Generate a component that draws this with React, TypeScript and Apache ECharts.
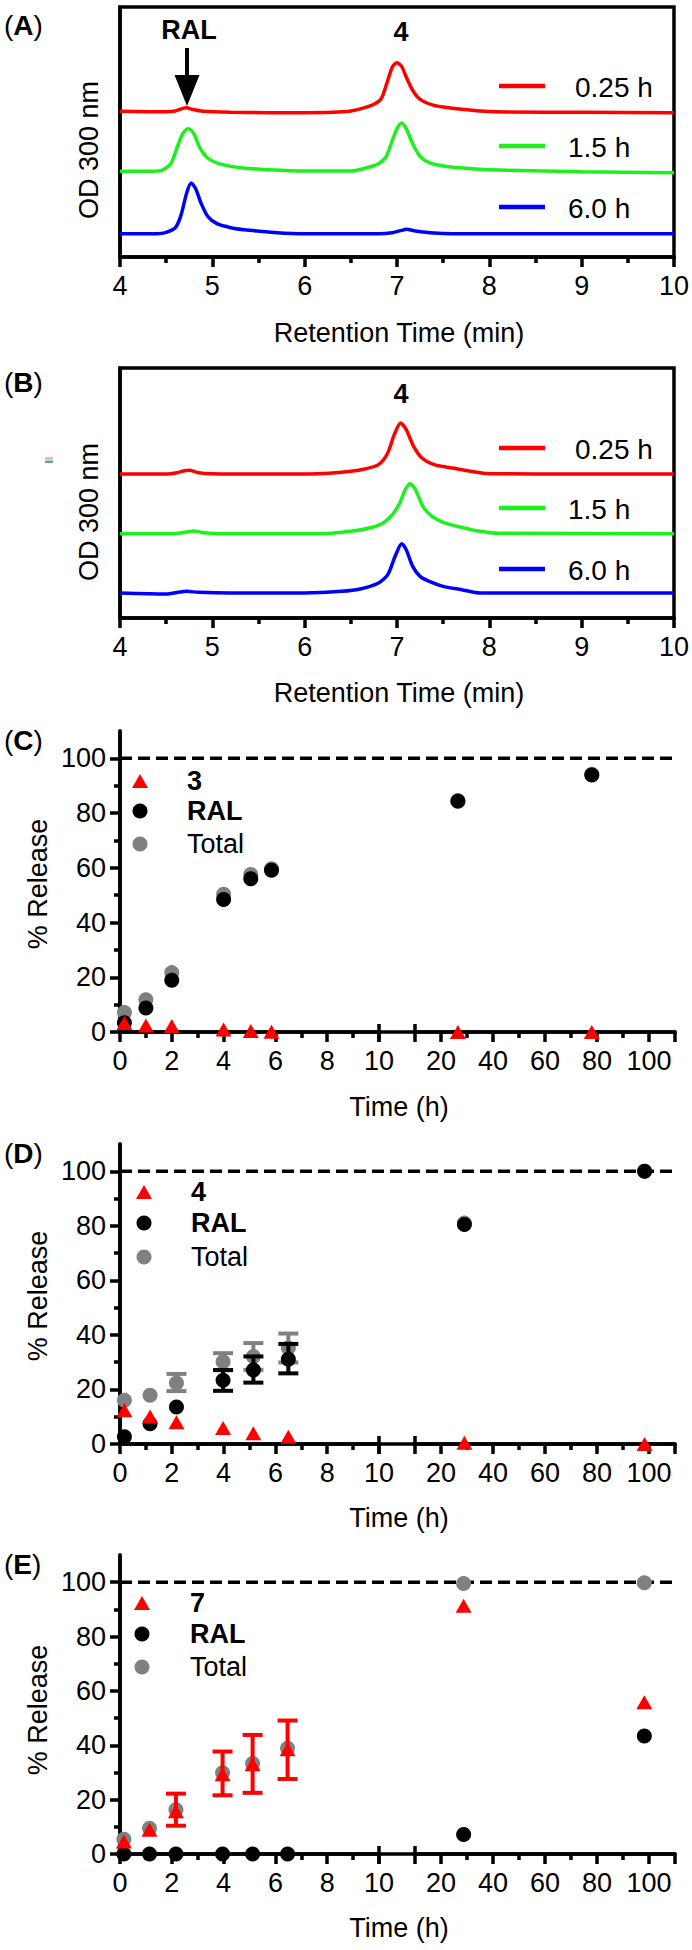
import React, { useEffect, useRef } from "react";
import * as echarts from "echarts";

const FONT = '"Liberation Sans", Arial, Helvetica, sans-serif';

// ---------- Panel A chromatograms (retention time min, signal a.u.) ----------
const aRed: [number, number][] = [[4.0,437],[4.3,436],[4.5,436],[4.6,438],[4.68,446],[4.72,448],[4.78,443],[4.9,437],[5.2,434],[5.6,433],[6.0,433],[6.3,434],[6.5,438],[6.65,448],[6.75,458],[6.83,475],[6.9,530],[6.95,570],[7.0,583],[7.05,572],[7.1,540],[7.17,500],[7.23,478],[7.3,465],[7.4,455],[7.5,450],[7.7,443],[7.9,438],[8.2,435],[9.0,434],[10.0,433]];
const aGreen: [number, number][] = [[4.0,257],[4.3,257],[4.45,260],[4.55,280],[4.62,330],[4.68,370],[4.74,385],[4.8,370],[4.86,330],[4.93,302],[5.0,288],[5.1,278],[5.3,268],[5.6,262],[6.0,258],[6.5,258],[6.7,270],[6.8,280],[6.88,300],[6.95,350],[7.0,385],[7.05,402],[7.1,385],[7.17,340],[7.25,302],[7.35,283],[7.5,273],[7.8,265],[8.2,260],[9.0,256],[10.0,253]];
const aBlue: [number, number][] = [[4.0,70],[4.4,70],[4.5,74],[4.6,88],[4.66,125],[4.72,190],[4.77,222],[4.82,205],[4.88,160],[4.95,122],[5.05,100],[5.2,88],[5.4,80],[5.7,73],[6.0,70],[6.8,70],[6.95,73],[7.05,80],[7.1,83],[7.2,78],[7.4,72],[7.6,70],[10.0,70]];

// ---------- Panel B chromatograms ----------
const bRed: [number, number][] = [[4.0,432],[4.5,432],[4.62,436],[4.7,442],[4.75,443],[4.85,436],[5.0,433],[5.5,432],[6.0,432],[6.3,435],[6.5,440],[6.65,447],[6.8,460],[6.9,495],[6.97,550],[7.04,585],[7.1,565],[7.18,515],[7.27,480],[7.4,460],[7.6,450],[7.8,440],[8.0,433],[9.0,432],[10.0,432]];
const bGreen: [number, number][] = [[4.0,253],[4.6,253],[4.72,258],[4.8,261],[4.9,256],[5.1,253],[6.2,253],[6.5,260],[6.7,270],[6.85,285],[6.95,310],[7.03,345],[7.09,385],[7.14,403],[7.2,385],[7.28,335],[7.38,305],[7.5,287],[7.7,272],[7.9,260],[8.1,254],[10.0,253]];
const bBlue: [number, number][] = [[4.0,75],[4.5,72],[4.65,78],[4.72,80],[4.85,77],[5.2,75],[6.0,75],[6.4,80],[6.6,87],[6.8,105],[6.9,130],[6.98,185],[7.05,223],[7.1,205],[7.17,155],[7.25,125],[7.35,110],[7.5,95],[7.7,85],[7.9,75],[10.0,75]];

const chromLegend = ["0.25 h", "1.5 h", "6.0 h"];

// ---------- Panel C (% release) ----------
const cTime = [0.17, 1.0, 2.0, 4.0, 5.05, 5.85, 26.5, 78];
const cCompound = [3.3, 2.4, 2.2, 0.9, 0.4, 0.1, 0, 0];
const cRAL = [3.4, 8.8, 18.9, 48.4, 56.0, 59.1, 84.3, 93.9];
const cTotal = [7.1, 11.8, 21.7, 50.3, 57.6, 59.7, 84.6, 94.2];

// ---------- Panel D ----------
const dTime = [0.17, 1.16, 2.18, 3.98, 5.15, 6.5, 29, 98.3];
const dCompound = [12.4, 10.1, 8.0, 5.9, 3.9, 2.7, 0.5, 0];
const dRAL = [2.7, 7.4, 13.6, 23.4, 27.1, 31.1, 80.5, 100];
const dTotal = [16.0, 17.9, 22.4, 30.2, 32.1, 35.2, 81.0, 100];
const dRALLow = [null, null, null, 19.5, 22.5, 25.9, null, null];
const dRALHigh = [null, null, null, 27.1, 32.1, 36.7, null, null];
const dTotalLow = [null, null, 19.4, 27.1, 27.2, 29.9, null, null];
const dTotalHigh = [null, null, 25.7, 33.3, 37.0, 40.5, null, null];

// ---------- Panel E ----------
const eTime = [0.15, 1.14, 2.16, 3.96, 5.12, 6.47, 28.7, 98.2];
const eCompound = [4.6, 8.9, 15.7, 29.3, 33.0, 38.5, 91.3, 55.8];
const eRAL = [0, 0, 0, 0, 0, 0, 7.2, 43.4];
const eTotal = [5.4, 9.5, 16.3, 29.9, 33.3, 38.9, 99.5, 99.8];
const eCompLow = [null, null, 10.4, 21.6, 22.5, 27.6, null, null];
const eCompHigh = [null, null, 22.2, 37.7, 43.8, 49.1, null, null];

// ---------- tick values ----------
const yMajor = [0, 20, 40, 60, 80, 100];
const yMinor = [10, 30, 50, 70, 90];
const xRightMajor = [20, 40, 60, 80, 100, 110];
const xRightLabels = [20, 40, 60, 80, 100];
const xRightMinor = [30, 50, 70, 90];

const completeRelease = 100;
const releaseLegend = [["3", "RAL", "Total"], ["4", "RAL", "Total"], ["7", "RAL", "Total"]];

const RED = "#ff0000";
const GREEN = "#1ef01e";
const BLUE = "#0000ff";
const GREY = "#808080";
const BLACK = "#000000";

const AXW = 3.5;
const lineStyleAx = { color: BLACK, width: AXW };
const labelStyle = { color: BLACK, fontSize: 27, fontFamily: FONT };

function App() {
  const ref = useRef<HTMLDivElement>(null);
  useEffect(() => {
    if (!ref.current) return;
    const chart = echarts.init(ref.current, undefined, { renderer: "svg" });

    const grid: any[] = [];
    const xAxis: any[] = [];
    const yAxis: any[] = [];
    const series: any[] = [];
    const graphic: any[] = [];

    const txt = (x: number, y: number, text: string, o: any = {}) => ({
      type: "text",
      x,
      y,
      rotation: o.rotation || 0,
      z: 100,
      style: {
        text,
        fontSize: o.fontSize || 27,
        fontFamily: FONT,
        fontWeight: o.bold ? "bold" : "normal",
        fill: BLACK,
        textAlign: o.align || "center",
        textVerticalAlign: "middle",
        align: o.align || "center",
        verticalAlign: "middle",
        rich: o.rich,
      },
    });
    const panelLabel = (y: number, L: string) =>
      txt(4, y, "{n|(}{b|" + L + "}{n|)}", {
        align: "left",
        rich: { n: { fontSize: 28, fontFamily: FONT }, b: { fontSize: 28, fontFamily: FONT, fontWeight: "bold" } },
      });

    // ---------- chromatogram panels ----------
    const chrom = [
      { top: 7, h: 250, data: [aRed, aGreen, aBlue], legendY: [86, 146, 207], label: "A", labelY: 25, yTitle: 150, xTitle: 333, peak4Y: 32 },
      { top: 368, h: 250, data: [bRed, bGreen, bBlue], legendY: [448, 508, 569], label: "B", labelY: 382, yTitle: 512, xTitle: 693, peak4Y: 394 },
    ];
    const colors = [RED, GREEN, BLUE];
    chrom.forEach((p) => {
      const gi = grid.length;
      grid.push({ left: 120, top: p.top, width: 555, height: p.h, show: true, borderColor: BLACK, borderWidth: AXW, backgroundColor: "transparent" });
      const xi = xAxis.length;
      xAxis.push({
        gridIndex: gi, type: "value", min: 4, max: 10, interval: 1,
        axisLine: { show: true, lineStyle: lineStyleAx },
        axisTick: { show: true, length: 10, lineStyle: lineStyleAx },
        minorTick: { show: true, splitNumber: 2, length: 6, lineStyle: lineStyleAx },
        axisLabel: { ...labelStyle, margin: 15 },
        splitLine: { show: false },
      });
      const yi = yAxis.length;
      yAxis.push({
        gridIndex: gi, type: "value", min: 0, max: 750,
        axisLine: { show: true, lineStyle: lineStyleAx },
        axisTick: { show: false }, axisLabel: { show: false }, splitLine: { show: false },
      });
      p.data.forEach((d, k) => {
        series.push({
          type: "line", xAxisIndex: xi, yAxisIndex: yi, data: d, showSymbol: false, symbol: "none",
          smooth: 0.25, lineStyle: { color: colors[k], width: 3.5 }, z: 3,
        });
        graphic.push({ type: "line", shape: { x1: 499, y1: p.legendY[k], x2: 545, y2: p.legendY[k] }, style: { stroke: colors[k], lineWidth: 4.5 }, z: 100 });
        graphic.push(txt(k === 0 ? 575 : 568, p.legendY[k] + 1, chromLegend[k], { align: "left", fontSize: 28 }));
      });
      graphic.push(panelLabel(p.labelY, p.label));
      graphic.push(txt(89, p.yTitle, "OD 300 nm", { rotation: Math.PI / 2 }));
      graphic.push(txt(399, p.xTitle, "Retention Time (min)"));
      graphic.push(txt(401, p.peak4Y, "4", { bold: true }));
    });

    // RAL arrow in A
    graphic.push(txt(189, 30, "RAL", { bold: true }));
    graphic.push({ type: "line", shape: { x1: 187, y1: 48, x2: 187, y2: 80 }, style: { stroke: BLACK, lineWidth: 4 }, z: 100 });
    graphic.push({ type: "polygon", shape: { points: [[174.5, 75], [199.5, 75], [187, 106]] }, style: { fill: BLACK }, z: 100 });
    // small artifact in B
    graphic.push({ type: "rect", shape: { x: 45, y: 457, width: 8, height: 2 }, style: { fill: "#e8b8c8" }, z: 100 });
    graphic.push({ type: "rect", shape: { x: 45, y: 459, width: 8, height: 2 }, style: { fill: "#b0e0b0" }, z: 100 });
    graphic.push({ type: "rect", shape: { x: 45, y: 461, width: 8, height: 2 }, style: { fill: "#7090d8" }, z: 100 });

    // ---------- release panels ----------
    const rel = [
      { top: 731, bottom: 1032, label: "C", labelY: 740, yTitle: 884, xTitle: 1107, legX: 140, legTX: 187, legY: [781, 811, 844],
        time: cTime, comp: cCompound, ral: cRAL, total: cTotal, err: [] as any[] },
      { top: 1144, bottom: 1444, label: "D", labelY: 1153, yTitle: 1296, xTitle: 1518, legX: 144, legTX: 191, legY: [1192, 1223, 1257],
        time: dTime, comp: dCompound, ral: dRAL, total: dTotal,
        err: [{ who: "total", low: dTotalLow, high: dTotalHigh, color: GREY }, { who: "ral", low: dRALLow, high: dRALHigh, color: BLACK }] },
      { top: 1555, bottom: 1854, label: "E", labelY: 1564, yTitle: 1710, xTitle: 1928, legX: 142, legTX: 190, legY: [1603, 1634, 1667],
        time: eTime, comp: eCompound, ral: eRAL, total: eTotal,
        err: [{ who: "comp", low: eCompLow, high: eCompHigh, color: RED }] },
    ];

    const errSeries = (xi: number, yi: number, data: number[][], color: string, z: number) => ({
      type: "custom", xAxisIndex: xi, yAxisIndex: yi, z, data, clip: false,
      encode: { x: 0, y: [1, 2] },
      renderItem: (_params: any, api: any) => {
        const x = api.value(0);
        const lo = api.coord([x, api.value(1)]);
        const hi = api.coord([x, api.value(2)]);
        const w = 10;
        const st = { stroke: color, lineWidth: 4 };
        return {
          type: "group",
          children: [
            { type: "line", shape: { x1: lo[0], y1: lo[1], x2: hi[0], y2: hi[1] }, style: st },
            { type: "line", shape: { x1: lo[0] - w, y1: lo[1], x2: lo[0] + w, y2: lo[1] }, style: st },
            { type: "line", shape: { x1: hi[0] - w, y1: hi[1], x2: hi[0] + w, y2: hi[1] }, style: st },
          ],
        };
      },
    });

    rel.forEach((p, pi) => {
      const h = p.bottom - p.top;
      const gL = grid.length, gR = gL + 1, gO = gL + 2;
      grid.push({ left: 120, top: p.top, width: 259, height: h });
      grid.push({ left: 415, top: p.top, width: 260, height: h });
      grid.push({ left: 120, top: p.top, width: 555, height: h });

      // x axes
      const xL = xAxis.length;
      xAxis.push({ gridIndex: gL, type: "value", min: 0, max: 10, interval: 2, position: "bottom",
        axisLine: { show: true, lineStyle: lineStyleAx },
        axisTick: { show: true, length: 10, lineStyle: lineStyleAx },
        minorTick: { show: true, splitNumber: 2, length: 6, lineStyle: lineStyleAx },
        axisLabel: { ...labelStyle, margin: 15 }, splitLine: { show: false } });
      const xR = xAxis.length;
      xAxis.push({ gridIndex: gR, type: "value", min: 10, max: 110, position: "bottom",
        axisLine: { show: true, lineStyle: lineStyleAx },
        axisTick: { show: true, length: 10, lineStyle: lineStyleAx, customValues: xRightMajor },
        axisLabel: { ...labelStyle, margin: 15, customValues: xRightLabels }, splitLine: { show: false } });
      xAxis.push({ gridIndex: gR, type: "value", min: 10, max: 110, position: "bottom",
        axisLine: { show: false },
        axisTick: { show: true, length: 6, lineStyle: lineStyleAx, customValues: xRightMinor },
        axisLabel: { show: false }, splitLine: { show: false } });
      const xO = xAxis.length;
      xAxis.push({ gridIndex: gO, type: "value", min: 0, max: 1, position: "top",
        axisLine: { show: true, lineStyle: lineStyleAx }, axisTick: { show: false }, axisLabel: { show: false }, splitLine: { show: false } });

      // y axes
      const yL = yAxis.length;
      yAxis.push({ gridIndex: gL, type: "value", min: 0, max: 110, position: "left",
        axisLine: { show: true, lineStyle: lineStyleAx },
        axisTick: { show: true, length: 10, lineStyle: lineStyleAx, customValues: yMajor },
        axisLabel: { ...labelStyle, margin: 14, customValues: yMajor }, splitLine: { show: false } });
      yAxis.push({ gridIndex: gL, type: "value", min: 0, max: 110, position: "left",
        axisLine: { show: false },
        axisTick: { show: true, length: 6, lineStyle: lineStyleAx, customValues: yMinor },
        axisLabel: { show: false }, splitLine: { show: false } });
      const yR = yAxis.length;
      yAxis.push({ gridIndex: gR, type: "value", min: 0, max: 110, show: false });
      const yO = yAxis.length;
      yAxis.push({ gridIndex: gO, type: "value", min: 0, max: 110, position: "right",
        axisLine: { show: true, lineStyle: lineStyleAx }, axisTick: { show: false }, axisLabel: { show: false }, splitLine: { show: false } });

      // axis break caps
      [379, 415].forEach((bx) => {
        graphic.push({ type: "line", shape: { x1: bx, y1: p.bottom - 8, x2: bx, y2: p.bottom + 10 }, style: { stroke: BLACK, lineWidth: AXW }, z: 50 });
      });

      // 100 % dashed reference
      series.push({ type: "line", xAxisIndex: xO, yAxisIndex: yO, data: [[0, completeRelease], [1, completeRelease]], symbol: "none",
        lineStyle: { color: BLACK, width: 3.5, type: [12, 6] }, z: 1 });

      const split = (vals: number[], left: boolean) =>
        p.time.map((t, i) => [t, vals[i]]).filter((d) => (left ? d[0] <= 10 : d[0] > 10));
      const errData = (low: (number | null)[], high: (number | null)[], left: boolean) =>
        p.time.map((t, i) => [t, low[i], high[i]]).filter((d) => d[1] != null && (left ? d[0] <= 10 : d[0] > 10)) as number[][];

      const addScatter = (vals: number[], color: string, symbol: string, size: any, z: number) => {
        [true, false].forEach((left) => {
          series.push({ type: "scatter", xAxisIndex: left ? xL : xR, yAxisIndex: left ? yL : yR, data: split(vals, left), symbol, symbolSize: size,
            itemStyle: { color, opacity: 1 }, clip: false, z });
        });
      };
      const addErr = (who: string, z: number) => {
        p.err.filter((e: any) => e.who === who).forEach((e: any) => {
          [true, false].forEach((left) => {
            const d = errData(e.low, e.high, left);
            if (d.length) series.push(errSeries(left ? xL : xR, left ? yL : yR, d, e.color, z));
          });
        });
      };
      addErr("total", 3);
      addScatter(p.total, GREY, "circle", 15, 4);
      addErr("ral", 5);
      addScatter(p.ral, BLACK, "circle", 15, 6);
      addErr("comp", 7);
      addScatter(p.comp, RED, "triangle", [16, 14], 8);

      // legend
      const L = releaseLegend[pi];
      const lx = p.legX;
      graphic.push({ type: "polygon", shape: { points: [[lx, p.legY[0] - 7], [lx + 8, p.legY[0] + 7], [lx - 8, p.legY[0] + 7]] }, style: { fill: RED }, z: 100 });
      graphic.push({ type: "circle", shape: { cx: lx, cy: p.legY[1], r: 7.5 }, style: { fill: BLACK }, z: 100 });
      graphic.push({ type: "circle", shape: { cx: lx, cy: p.legY[2], r: 7.5 }, style: { fill: GREY }, z: 100 });
      graphic.push(txt(p.legTX, p.legY[0], L[0], { align: "left", bold: true }));
      graphic.push(txt(p.legTX, p.legY[1], L[1], { align: "left", bold: true }));
      graphic.push(txt(p.legTX, p.legY[2], L[2], { align: "left" }));

      graphic.push(panelLabel(p.labelY, p.label));
      graphic.push(txt(38, p.yTitle, "% Release", { rotation: Math.PI / 2 }));
      graphic.push(txt(399, p.xTitle, "Time (h)"));
    });

    chart.setOption({ animation: false, grid, xAxis, yAxis, series, graphic });
    return () => chart.dispose();
  }, []);

  return (
    <div style={{ position: "absolute", left: 0, top: 0, width: 692, height: 1950, background: "#fff" }}>
      <div ref={ref} style={{ width: 692, height: 1950 }} />
    </div>
  );
}

export default App;
